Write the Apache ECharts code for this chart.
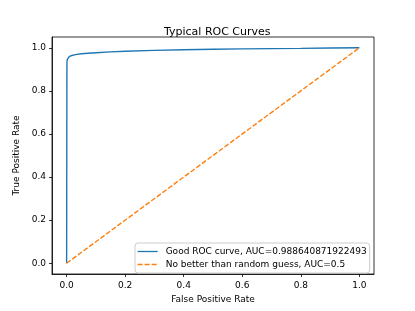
<!DOCTYPE html>
<html>
<head>
<meta charset="utf-8">
<script src="https://cdn.jsdelivr.net/npm/echarts@6/dist/echarts.min.js"></script>
<style>html,body{margin:0;padding:0;background:#fff;}#c{width:415px;height:311px;}</style>
</head>
<body>
<div id="c"></div>
<script>
var goodFpr = [0, 0.0005, 0.001, 0.002, 0.004, 0.008, 0.015, 0.03, 0.05, 0.1, 0.15, 0.2, 0.3, 0.4, 0.5, 0.6, 0.7, 0.8, 0.9, 1.0];
var goodTpr = [0, 0.5, 0.93, 0.945, 0.952, 0.958, 0.963, 0.968, 0.972, 0.977, 0.981, 0.984, 0.988, 0.991, 0.993, 0.995, 0.996, 0.997, 0.999, 1.0];
var randFpr = [0, 1];
var randTpr = [0, 1];
var tickValues = [0, 0.2, 0.4, 0.6, 0.8, 1.0];
var goodName = 'Good ROC curve, AUC=0.988640871922493';
var randName = 'No better than random guess, AUC=0.5';
var titleText = 'Typical ROC Curves';
var xName = 'False Positive Rate';
var yName = 'True Positive Rate';

function pairs(a, b) { return a.map(function (v, i) { return [v, b[i]]; }); }
var font = 'DejaVu Sans';
var chart = echarts.init(document.getElementById('c'), null, {renderer: 'canvas'});
function axis(name, gap, margin) {
  return {
    type: 'value', min: -0.05, max: 1.05,
    name: name, nameLocation: 'middle', nameGap: gap,
    nameTextStyle: {fontFamily: font, fontSize: 9, color: '#000'},
    splitLine: {show: false},
    axisLine: {show: true, onZero: false, lineStyle: {color: '#000', width: 0.8}},
    axisTick: {show: true, inside: false, length: 3, customValues: tickValues, lineStyle: {color: '#000', width: 0.8}},
    axisLabel: {customValues: tickValues, margin: margin, fontFamily: font, fontSize: 9, color: '#000',
      formatter: function (v) { return v.toFixed(1); }}
  };
}
chart.setOption({
  animation: false,
  backgroundColor: '#fff',
  title: {text: titleText, left: 159, top: 22, textStyle: {fontFamily: font, fontSize: 11, fontWeight: 'normal', color: '#000'}},
  grid: {left: 52, right: 41, top: 37, bottom: 37, show: true, borderColor: '#000', borderWidth: 0.8, backgroundColor: '#fff'},
  xAxis: axis(xName, 20, 7),
  yAxis: axis(yName, 25, 6),
  legend: {
    orient: 'vertical', left: 135, top: 243, padding: [3, 3, 3, 2], itemGap: 2,
    itemWidth: 20, itemHeight: 10,
    backgroundColor: 'rgba(255,255,255,0.8)', borderColor: '#ccc', borderWidth: 1, borderRadius: 3,
    itemStyle: {opacity: 0},
    lineStyle: {width: 1.3},
    textStyle: {fontFamily: font, fontSize: 9, lineHeight: 11, color: '#000', padding: [0, 0, 0, 3]},
    data: [goodName, randName]
  },
  series: [
    {name: goodName, type: 'line', data: pairs(goodFpr, goodTpr), symbol: 'none', smooth: false,
      lineStyle: {color: '#1f77b4', width: 1.4}, itemStyle: {color: '#1f77b4'}},
    {name: randName, type: 'line', data: pairs(randFpr, randTpr), symbol: 'none',
      lineStyle: {color: '#ff7f0e', width: 1.4, type: [5, 2]}, itemStyle: {color: '#ff7f0e'}}
  ]
});
</script>
</body>
</html>
